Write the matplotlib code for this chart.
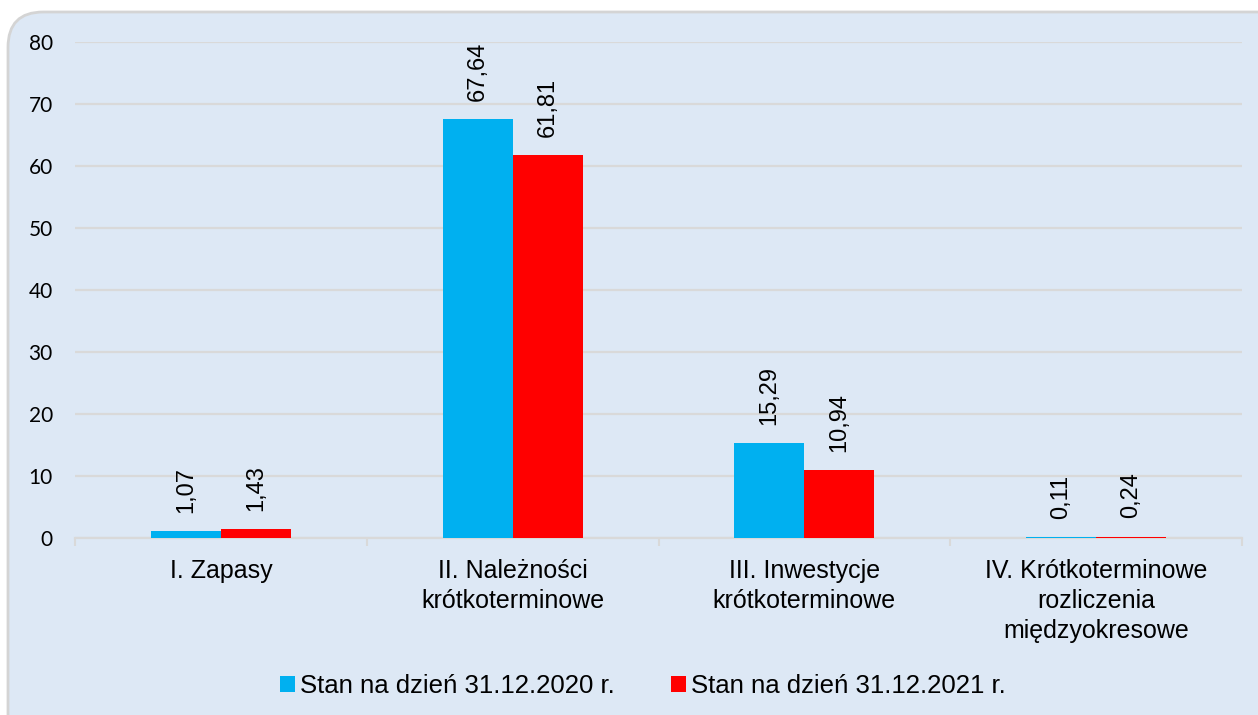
import matplotlib
matplotlib.use("Agg")
import matplotlib.pyplot as plt
from matplotlib.patches import FancyBboxPatch
import numpy as np

categories = ["I. Zapasy", "II. Należności\nkrótkoterminowe", "III. Inwestycje\nkrótkoterminowe",
              "IV. Krótkoterminowe\nrozliczenia\nmiędzyokresowe"]
series_names = ["Stan na dzień 31.12.2020 r.", "Stan na dzień 31.12.2021 r."]
values_2020 = [1.07, 67.64, 15.29, 0.11]
values_2021 = [1.43, 61.81, 10.94, 0.24]
yticks = [0, 10, 20, 30, 40, 50, 60, 70, 80]

colors = ["#00b0f0", "#ff0000"]
bg = "#dde8f5"

fig = plt.figure(figsize=(12.58, 7.15), dpi=100)
fig.patch.set_facecolor("white")

# rounded background panel
W, H = 1258, 715
panel = FancyBboxPatch((8 / W, -0.1), 1.2, (715 - 12) / H + 0.1,
                       boxstyle="round,pad=0,rounding_size=0.028",
                       transform=fig.transFigure, facecolor=bg, edgecolor="#d4d4d4",
                       linewidth=2, mutation_aspect=W / H, zorder=-5)
fig.patches.append(panel)

ax = fig.add_axes([75 / W, 1 - 538 / H, (1242 - 75) / W, (538 - 42) / H])
ax.set_zorder(2)
ax.set_facecolor("none")

x = np.arange(len(categories))
bw = 0.24
b1 = ax.bar(x - bw / 2, values_2020, bw, color=colors[0], label=series_names[0], zorder=3)
b2 = ax.bar(x + bw / 2, values_2021, bw, color=colors[1], label=series_names[1], zorder=3)

for bars, vals in ((b1, values_2020), (b2, values_2021)):
    for rect, v in zip(bars, vals):
        ax.annotate(f"{v:.2f}".replace(".", ","),
                    (rect.get_x() + rect.get_width() / 2, rect.get_height()),
                    xytext=(0, 13), textcoords="offset points", rotation=90,
                    ha="center", va="bottom", fontsize=17, family="Liberation Sans",
                    color="black")

ax.set_xlim(-0.5, len(categories) - 0.5)
ax.set_ylim(0, 80)
ax.set_yticks(yticks)
ax.set_yticklabels([str(t) for t in yticks], fontsize=15, family="Lato")
ax.yaxis.grid(True, color="#d9d9d9", linewidth=1.6, zorder=0)
ax.tick_params(axis="y", length=0, pad=16)
ax.set_xticks(x)
ax.set_xticklabels(categories, fontsize=18, family="Liberation Sans", linespacing=1.32)
ax.set_xticks(np.arange(-0.5, len(categories), 1), minor=True)
ax.tick_params(axis="x", which="major", length=0, pad=15)
ax.tick_params(axis="x", which="minor", length=6, color="#d9d9d9", width=1.5)
for s in ("top", "right", "left"):
    ax.spines[s].set_visible(False)
ax.spines["bottom"].set_color("#d9d9d9")
ax.spines["bottom"].set_linewidth(1.6)

leg = fig.legend(handles=[b1, b2], labels=series_names, loc="center",
                 bbox_to_anchor=(643 / W, 1 - 686 / H), ncol=2, frameon=False,
                 prop={"family": "Liberation Sans", "size": 18.5},
                 handlelength=0.58, handleheight=0.58, handletextpad=0.2, columnspacing=2.2)

fig.savefig("out.png", dpi=100, facecolor="white")
